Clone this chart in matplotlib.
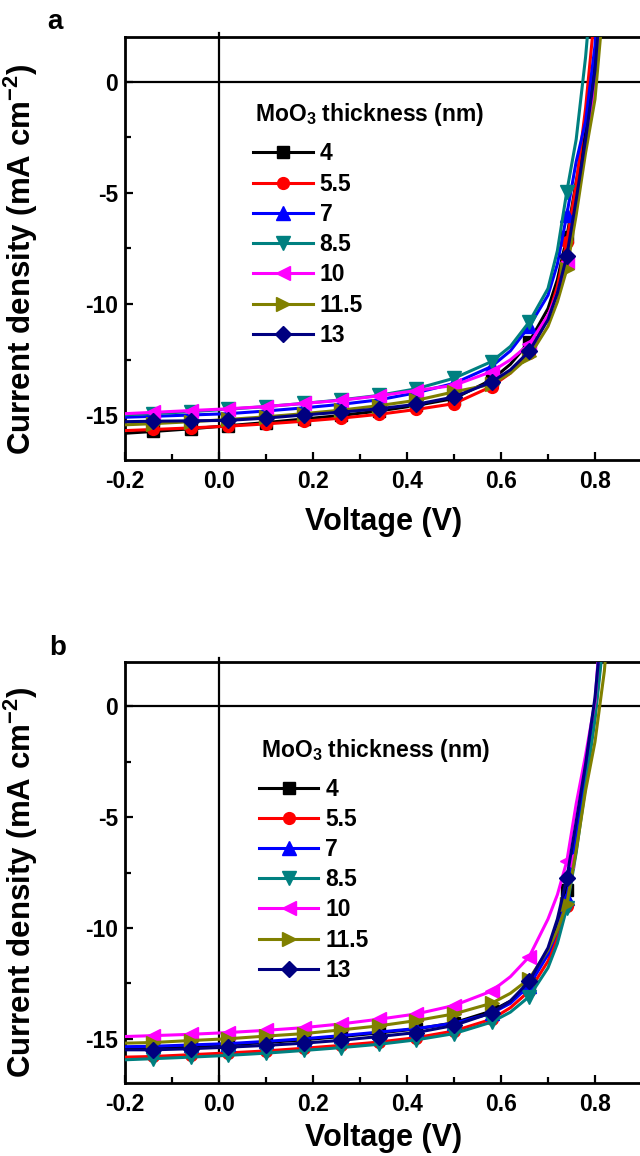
import matplotlib
matplotlib.use("Agg")
import matplotlib.pyplot as plt
from matplotlib.ticker import MultipleLocator, FormatStrFormatter

plt.rcParams['font.family'] = ['Liberation Sans', 'DejaVu Sans']
plt.rcParams['font.weight'] = 'bold'
plt.rcParams['mathtext.fontset'] = 'custom'
plt.rcParams['mathtext.rm'] = 'Liberation Sans:bold'
plt.rcParams['mathtext.bf'] = 'Liberation Sans:bold'
plt.rcParams['mathtext.default'] = 'bf'
plt.rcParams['axes.unicode_minus'] = False

# voltage grid (V)
voltage = [-0.2, -0.14, -0.06, 0.02, 0.10, 0.18, 0.26, 0.34, 0.42, 0.50, 0.58,
           0.62, 0.66, 0.70, 0.72, 0.74, 0.76, 0.78, 0.80, 0.82, 0.84]

labels = ["4", "5.5", "7", "8.5", "10", "11.5", "13"]
colors = ["#000000", "#FF0000", "#0000FF", "#008080", "#FF00FF", "#808000", "#000080"]
markers = ["s", "o", "^", "v", "<", ">", "D"]

# panel a, current density (mA cm-2)
a_4 = [-15.8, -15.72, -15.6, -15.46, -15.32, -15.16, -15.0, -14.8, -14.55, -14.24, -13.4,
       -12.7, -11.7, -10.2, -8.9, -7.0, -4.5, -2.3, 1.0, 7.0, 14.0]
a_5_5 = [-15.68, -15.63, -15.56, -15.48, -15.38, -15.26, -15.12, -14.95, -14.73, -14.47, -13.7,
         -13.1, -12.2, -10.6, -9.2, -7.2, -4.6, -1.2, 3.2, 9.0, 16.0]
a_7 = [-15.08, -15.04, -14.98, -14.92, -14.8, -14.66, -14.5, -14.3, -13.98, -13.56, -12.8,
       -12.1, -11.0, -9.6, -8.2, -5.98, -3.6, -1.8, 1.6, 8.0, 15.0]
a_8_5 = [-14.97, -14.92, -14.83, -14.72, -14.6, -14.46, -14.3, -14.1, -13.8, -13.33, -12.58,
         -11.9, -10.8, -9.3, -7.6, -4.95, -2.6, 1.1, 6.0, 12.0, 18.0]
a_10 = [-14.92, -14.86, -14.78, -14.7, -14.6, -14.46, -14.32, -14.12, -13.88, -13.65, -13.03,
        -12.5, -11.8, -10.5, -9.5, -8.1, -5.6, -2.9, 0.0, 5.0, 11.0]
a_11_5 = [-15.42, -15.37, -15.28, -15.18, -15.06, -14.92, -14.76, -14.56, -14.32, -13.94, -13.6,
          -13.1, -12.35, -11.0, -9.9, -8.44, -6.0, -3.2, -0.8, 4.0, 10.0]
a_13 = [-15.28, -15.26, -15.24, -15.22, -15.12, -14.98, -14.85, -14.7, -14.5, -14.17, -13.5,
        -12.95, -12.12, -10.7, -9.5, -7.84, -5.3, -2.6, 0.5, 6.0, 12.0]

# panel b, current density (mA cm-2)
b_4 = [-15.42, -15.4, -15.34, -15.27, -15.17, -15.05, -14.9, -14.74, -14.56, -14.28, -13.75,
       -13.3, -12.5, -11.1, -9.9, -8.3, -5.7, -2.9, 0.0, 4.6, 10.0]
b_5_5 = [-15.83, -15.8, -15.72, -15.64, -15.55, -15.43, -15.3, -15.15, -14.95, -14.65, -14.12,
         -13.6, -12.85, -11.5, -10.4, -9.0, -6.4, -3.4, -0.4, 3.6, 9.0]
b_7 = [-15.36, -15.34, -15.28, -15.22, -15.12, -15.0, -14.86, -14.7, -14.54, -14.3, -13.85,
       -13.4, -12.6, -11.2, -10.1, -8.65, -5.9, -3.0, -0.1, 4.5, 10.0]
b_8_5 = [-15.95, -15.9, -15.83, -15.75, -15.65, -15.53, -15.4, -15.25, -15.05, -14.77, -14.25,
         -13.8, -13.1, -11.8, -10.7, -9.1, -6.6, -3.6, -0.6, 3.4, 9.0]
b_10 = [-14.9, -14.86, -14.8, -14.72, -14.62, -14.5, -14.33, -14.12, -13.88, -13.5, -12.85,
        -12.2, -11.3, -9.6, -8.5, -7.0, -4.4, -2.2, 0.2, 6.0, 12.0]
b_11_5 = [-15.2, -15.17, -15.08, -15.0, -14.88, -14.77, -14.6, -14.42, -14.18, -13.88, -13.4,
          -12.95, -12.3, -11.0, -10.1, -8.9, -6.5, -3.8, -1.6, 1.6, 7.0]
b_13 = [-15.5, -15.5, -15.45, -15.38, -15.3, -15.2, -15.07, -14.9, -14.72, -14.4, -13.83,
        -13.3, -12.4, -10.9, -9.6, -7.76, -5.2, -2.6, 0.4, 5.0, 11.0]

panel_a = [a_4, a_5_5, a_7, a_8_5, a_10, a_11_5, a_13]
panel_b = [b_4, b_5_5, b_7, b_8_5, b_10, b_11_5, b_13]

mark_idx = [1, 2, 3, 4, 5, 6, 7, 8, 9, 10, 12, 15]


def draw_panel(fig, rect, series, title_xy, leg_anchor, xlab_y, ylab_y):
    ax = fig.add_axes(rect)
    ax.axhline(0, color='black', lw=1.6, zorder=1)
    ax.axvline(0, color='black', lw=1.6, ymax=1.01, clip_on=False, zorder=1)
    for ys, c, m, lab in zip(series, colors, markers, labels):
        ms = 8 if m == 'D' else 9.5
        if m in ('s', 'o'):
            ms = 8.5
        ax.plot(voltage, ys, color=c, marker=m, markersize=ms, lw=2.2,
                markevery=mark_idx, label=lab, zorder=3)
    ax.set_xlim(-0.2, 0.9)
    ax.set_ylim(-17, 2)
    ax.xaxis.set_major_locator(MultipleLocator(0.2))
    ax.xaxis.set_minor_locator(MultipleLocator(0.1))
    ax.yaxis.set_major_locator(MultipleLocator(5))
    ax.yaxis.set_minor_locator(MultipleLocator(2.5))
    ax.xaxis.set_major_formatter(FormatStrFormatter('%.1f'))
    ax.yaxis.set_major_formatter(FormatStrFormatter('%d'))
    ax.tick_params(which='both', direction='in', width=1.6, labelsize=16.5)
    ax.tick_params(which='major', length=6)
    ax.tick_params(which='minor', length=4.5)
    ax.tick_params(axis='x', pad=7)
    ax.tick_params(axis='y', pad=5)
    for s in ax.spines.values():
        s.set_linewidth(2)
    ax.set_xlabel("Voltage (V)", fontsize=22, fontweight='bold')
    ax.set_ylabel("Current density (mA cm$^{-2}$)", fontsize=22.5, fontweight='bold')
    ax.xaxis.set_label_coords(0.5, xlab_y)
    ax.yaxis.set_label_coords(-0.165, ylab_y)
    ax.text(title_xy[0], title_xy[1], "MoO$_3$ thickness (nm)", transform=ax.transAxes,
            fontsize=16.5, fontweight='bold', ha='left', va='center')
    ax.legend(loc='upper left', bbox_to_anchor=leg_anchor, frameon=False,
              prop={'size': 16.5, 'weight': 'bold'},
              handlelength=2.6, handletextpad=0.3, labelspacing=0.315,
              borderpad=0, borderaxespad=0)
    return ax


fig = plt.figure(figsize=(6.4, 11.56), dpi=100)

draw_panel(fig, [0.1953, 0.6021, 0.8078, 0.3659], panel_a, (0.2515, 0.816), (0.248, 0.7506), -0.112, 0.474)
draw_panel(fig, [0.1953, 0.0631, 0.8078, 0.3642], panel_b, (0.263, 0.791), (0.259, 0.7257), -0.096, 0.476)

fig.text(55 / 640, 1 - 22 / 1156, "a", fontsize=20, fontweight='bold', ha='center', va='center')
fig.text(58 / 640, 1 - 648 / 1156, "b", fontsize=20, fontweight='bold', ha='center', va='center')

fig.savefig("out.png", dpi=100)
